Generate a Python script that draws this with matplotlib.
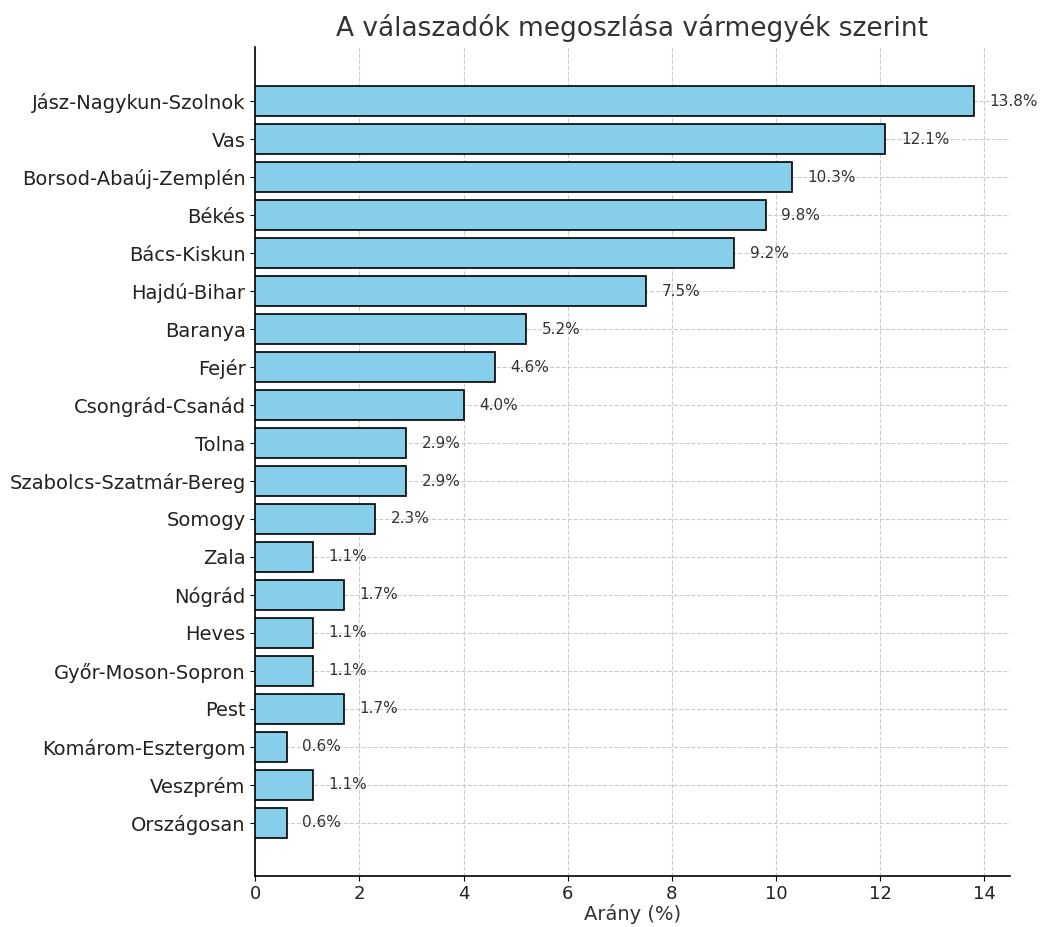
import matplotlib
matplotlib.use("Agg")
import matplotlib.pyplot as plt
import numpy as np

counties = [
    "Jász-Nagykun-Szolnok", "Vas", "Borsod-Abaúj-Zemplén", "Békés", "Bács-Kiskun",
    "Hajdú-Bihar", "Baranya", "Fejér", "Csongrád-Csanád", "Tolna",
    "Szabolcs-Szatmár-Bereg", "Somogy", "Zala", "Nógrád", "Heves",
    "Győr-Moson-Sopron", "Pest", "Komárom-Esztergom", "Veszprém", "Országosan",
]
shares = [13.8, 12.1, 10.3, 9.8, 9.2, 7.5, 5.2, 4.6, 4.0, 2.9,
          2.9, 2.3, 1.1, 1.7, 1.1, 1.1, 1.7, 0.6, 1.1, 0.6]

fig = plt.figure(figsize=(10.42, 9.27), dpi=100)
ax = fig.add_axes([0.245, 0.055, 0.724, 0.894])

y = np.arange(len(counties))
ax.barh(y, shares, height=0.8, color="skyblue", edgecolor="black", linewidth=1.2, zorder=3)

for yi, v in zip(y, shares):
    ax.text(v + 0.3, yi, f"{v}%", va="center", ha="left", fontsize=11, color="#333333", zorder=4)

ax.set_yticks(y)
ax.set_yticklabels(counties, fontsize=14, color="#222222")
ax.set_ylim(20.4, -1.42)
ax.set_xlim(0, 14.49)
ax.set_xticks(np.arange(0, 15, 2))
ax.tick_params(axis="x", labelsize=13, labelcolor="#222222", pad=3)
ax.set_xlabel("Arány (%)", fontsize=14, color="#333333", labelpad=1)
ax.set_title("A válaszadók megoszlása vármegyék szerint", fontsize=19, color="#333333", pad=8)

ax.grid(True, linestyle="--", color="#cccccc", linewidth=0.8, zorder=0)
ax.spines["top"].set_visible(False)
ax.spines["right"].set_visible(False)
ax.spines["left"].set_linewidth(1.2)
ax.spines["bottom"].set_linewidth(1.2)

fig.savefig("out.png", dpi=100)
